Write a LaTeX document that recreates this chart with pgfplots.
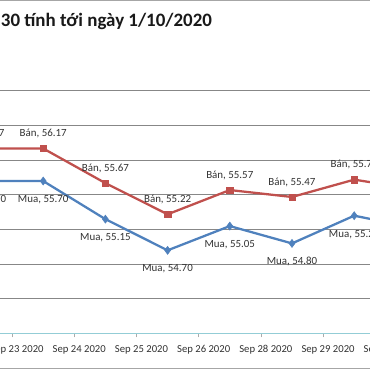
\documentclass[border=0pt]{standalone}
\usepackage{pgfplots}
\pgfplotsset{compat=1.18}
\usepackage{pgfplotstable}
\usepackage{fontspec}
\setmainfont{Carlito}
\definecolor{ban}{HTML}{C0504D}
\definecolor{mua}{HTML}{4F81BD}
\definecolor{gridc}{HTML}{878787}
\definecolor{axc}{HTML}{93CDD6}
\definecolor{lab}{HTML}{333333}

\pgfplotstableread{
x ban mua
0 56.17 55.70
1 56.17 55.70
2 55.67 55.15
3 55.22 54.70
4 55.57 55.05
5 55.47 54.80
6 55.72 55.20
7 55.58 55.02
}\datatable

\begin{document}
\begin{tikzpicture}
\useasboundingbox (0,0) rectangle (277.5pt,277.5pt);
\clip (0,0) rectangle (277.5pt,277.5pt);
\fill[white] (0,0) rectangle (277.5pt,277.5pt);
\begin{axis}[
 at={(-37.575pt,27.375pt)}, anchor=south west,
 scale only axis, width=373.2pt, height=192.3pt,
 xmin=-0.5, xmax=7.5, ymin=53.5, ymax=57.2,
 axis x line*=bottom, axis y line*=left,
 x axis line style={draw=axc, line width=0.75pt, -},
 y axis line style={draw=none},
 ytick={54,54.5,...,57}, yticklabels={},
 ymajorgrids, major grid style={draw=gridc, line width=0.75pt},
 major tick length=0pt,
 minor tick length=3pt, tick align=outside,
 tick style={draw=gridc!70, line width=0.6pt},
 xtick={0,...,7},
 xticklabels={Sep 22 2020, Sep 23 2020, Sep 24 2020, Sep 25 2020, Sep 26 2020, Sep 28 2020, Sep 29 2020, Sep 30 2020},
 minor xtick={-0.5,0.5,...,7.5},
 xticklabel style={anchor=base east, inner sep=0pt, yshift=-14.2pt, xshift=0.5pt, font=\fontsize{8}{9}\selectfont, text=lab},
 clip=false,
]
\addplot[color=mua, line width=1.7pt, mark=diamond*, mark size=3pt,
  mark options={solid, fill=mua, draw=mua, line width=0.4pt},
  nodes near coords={Mua, \pgfmathprintnumber[fixed,fixed zerofill,precision=2,assume math mode=true]{\pgfplotspointmeta}},
  every node near coord/.append style={anchor=center, yshift=-13.9pt, font=\fontsize{8.2}{9}\selectfont, text=lab}]
  table[x=x,y=mua]{\datatable};
\addplot[color=ban, line width=1.7pt, mark=square*, mark size=2.4pt,
  mark options={solid, fill=ban, draw=ban, line width=0.4pt},
  nodes near coords={Bán, \pgfmathprintnumber[fixed,fixed zerofill,precision=2,assume math mode=true]{\pgfplotspointmeta}},
  every node near coord/.append style={anchor=center, yshift=11.25pt, font=\fontsize{8.2}{9}\selectfont, text=lab}]
  table[x=x,y=ban]{\datatable};
\end{axis}
\draw[gray!70, line width=0.75pt] (0,0.75pt) -- (277.5pt,0.75pt);
\draw[gray!70, line width=0.75pt] (0,277pt) -- (277.5pt,277pt);
\node[anchor=base west, inner sep=0pt, font=\bfseries\fontsize{14.2}{16}\selectfont, text=black!90] at (0.5pt,257.25pt) {30 tính tới ngày 1/10/2020};
\end{tikzpicture}
\end{document}
